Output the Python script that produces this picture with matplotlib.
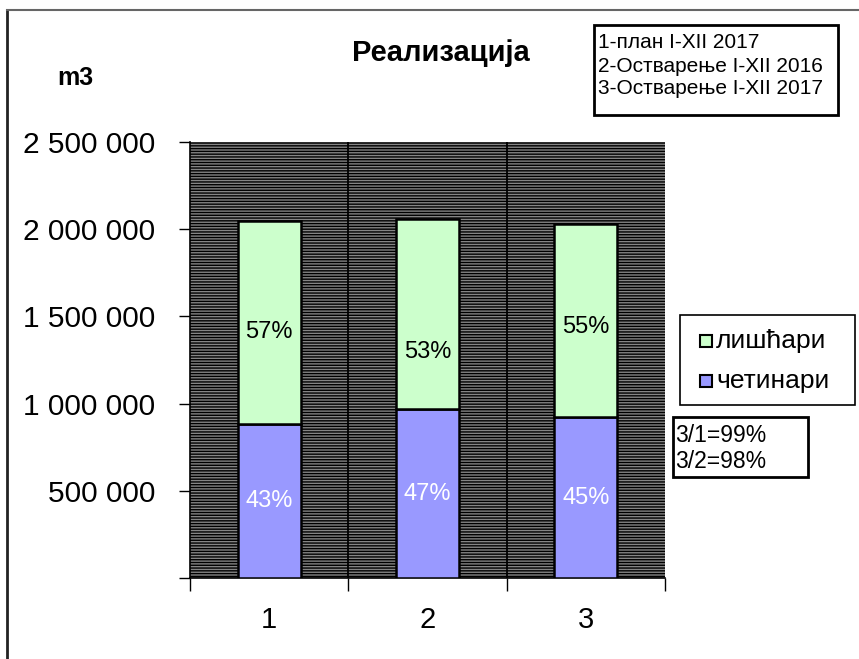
import matplotlib
matplotlib.use("Agg")
import matplotlib.pyplot as plt
from matplotlib.patches import Rectangle
from matplotlib.lines import Line2D
import numpy as np

plt.rcParams['font.family'] = ['Liberation Sans', 'DejaVu Sans']
plt.rcParams['hatch.linewidth'] = 1.0

categories = ['1', '2', '3']
cetinari = [883000, 969000, 923000]
liscari = [1164000, 1089000, 1107000]
pct_cet = ['43%', '47%', '45%']
pct_lis = ['57%', '53%', '55%']
yticks = [0, 500000, 1000000, 1500000, 2000000, 2500000]
ytick_labels = ['', '500 000', '1 000 000', '1 500 000', '2 000 000', '2 500 000']
info_lines = ['1-план I-XII 2017', '2-Остварење I-XII 2016', '3-Остварење I-XII 2017']
ratio_lines = ['3/1=99%', '3/2=98%']

W, H = 859, 659
fig = plt.figure(figsize=(W / 100, H / 100), dpi=100)
fig.patch.set_facecolor('white')

# figure border lines (left and top)
fig.add_artist(Line2D([7 / W, 7 / W], [0, 1 - 10 / H], color='#222222', lw=2, transform=fig.transFigure))
fig.add_artist(Line2D([7 / W, 1], [1 - 10 / H, 1 - 10 / H], color='#666666', lw=1.5, transform=fig.transFigure))

ax_l, ax_r, ax_t, ax_b = 190, 665, 142, 578
ax = fig.add_axes([ax_l / W, 1 - ax_b / H, (ax_r - ax_l) / W, (ax_b - ax_t) / H])
ax.set_facecolor('#858585')
ax.add_patch(Rectangle((0, 0), 1, 1, transform=ax.transAxes, facecolor='#858585',
                       edgecolor='black', hatch='------', lw=0, zorder=0))

x = np.arange(1, len(categories) + 1)
ax.bar(x, cetinari, width=0.4, color='#9999ff', edgecolor='black', lw=1.8, zorder=3)
ax.bar(x, liscari, width=0.4, bottom=cetinari, color='#ccffcc', edgecolor='black', lw=1.8, zorder=3)

upper_offsets = [-9, -38, -7]  # label placement offsets (pixels)
for xi, c, l, pc, pl, off in zip(x, cetinari, liscari, pct_cet, pct_lis, upper_offsets):
    ax.text(xi, c / 2, pc, ha='center', va='center', color='white', fontsize=17, zorder=4)
    ax.annotate(pl, (xi, c + l / 2), xytext=(0, off * 0.72), textcoords='offset points',
                ha='center', va='center', color='black', fontsize=17, zorder=4)

ax.set_xlim(0.5, 3.5)
ax.set_ylim(0, 2500000)
for xb in [1.5, 2.5]:
    ax.axvline(xb, color='black', lw=1.3, zorder=1)

ax.set_xticks(x)
ax.set_xticklabels(categories, fontsize=21)
ax.set_xticks([0.5, 1.5, 2.5, 3.5], minor=True)
ax.tick_params(axis='x', which='major', length=0, pad=20)
ax.tick_params(axis='x', which='minor', length=9, width=1, direction='out')
ax.set_yticks(yticks)
ax.set_yticklabels(ytick_labels, fontsize=21.5)
ax.tick_params(axis='y', length=8, width=1, direction='out', pad=17)

for s in ['top', 'right']:
    ax.spines[s].set_visible(False)
ax.spines['left'].set_linewidth(1.2)
ax.spines['bottom'].set_linewidth(1.2)

# title and unit
fig.text(441 / W, 1 - 53 / H, 'Реализација', ha='center', va='center', fontsize=21, fontweight='bold')
fig.text(75 / W, 1 - 78 / H, 'm3', ha='center', va='center', fontsize=18, fontweight='bold')

# info box top right
fig.add_artist(Rectangle((594 / W, 1 - 115 / H), (838 - 594) / W, (115 - 25) / H,
                         transform=fig.transFigure, facecolor='white', edgecolor='black', lw=2))
for i, t in enumerate(info_lines):
    fig.text(598 / W, 1 - (43 + i * 23) / H, t, ha='left', va='center', fontsize=15)

# legend box
fig.add_artist(Rectangle((680 / W, 1 - 405 / H), (855 - 680) / W, (405 - 315) / H,
                         transform=fig.transFigure, facecolor='white', edgecolor='black', lw=1.2))
leg_items = [('лишћари', '#ccffcc', 341), ('четинари', '#9999ff', 381)]
for name, col, yy in leg_items:
    fig.add_artist(Rectangle((700 / W, 1 - (yy + 6) / H), 12 / W, 12 / H,
                             transform=fig.transFigure, facecolor=col, edgecolor='black', lw=1.5))
    fig.text(716 / W, 1 - yy / H, name, ha='left', va='center', fontsize=19)

# ratio box
fig.add_artist(Rectangle((673 / W, 1 - 477 / H), (808 - 673) / W, (477 - 417) / H,
                         transform=fig.transFigure, facecolor='white', edgecolor='black', lw=2))
for i, t in enumerate(ratio_lines):
    fig.text(675 / W, 1 - (436 + i * 25) / H, t, ha='left', va='center', fontsize=16.5)

fig.savefig('out.png', dpi=100)
